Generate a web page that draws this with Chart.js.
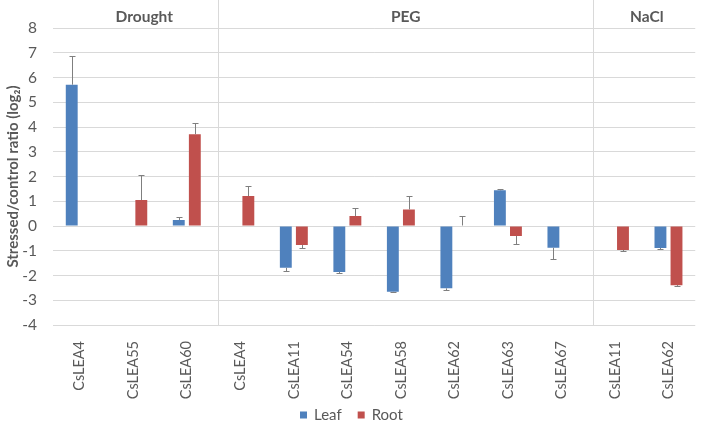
<!DOCTYPE html>
<html><head><meta charset="utf-8">
<script src="https://cdn.jsdelivr.net/npm/chart.js@4/dist/chart.umd.min.js"></script>
<style>html,body{margin:0;padding:0;background:#fff}#wrap{width:702px;height:426px;position:relative}canvas{display:block}</style>
</head><body><div id="wrap"><canvas id="c" width="702" height="426" style="width:702px;height:426px"></canvas></div>
<script>
const categories = ['CsLEA4','CsLEA55','CsLEA60','CsLEA4','CsLEA11','CsLEA54','CsLEA58','CsLEA62','CsLEA63','CsLEA67','CsLEA11','CsLEA62'];
const groupNames = ['Drought','PEG','NaCl'];
const groupSizes = [3, 7, 2];
const seriesNames = ['Leaf','Root'];
const leafValues = [5.71, null, 0.24, null, -1.69, -1.86, -2.66, -2.52, 1.44, -0.88, null, -0.89];
const leafErrors = [1.17, null, 0.11, null, 0.13, 0.03, 0.02, 0.07, 0.04, 0.46, null, 0.05];
const rootValues = [null, 1.05, 3.71, 1.21, -0.77, 0.40, 0.67, 0.02, -0.40, null, -0.97, -2.39];
const rootErrors = [null, 1.03, 0.45, 0.41, 0.11, 0.31, 0.54, 0.40, 0.34, null, 0.04, 0.02];
const yMin = -4, yMax = 8, yStep = 1;

const FONT = 'Lato, "Open Sans", sans-serif';
const TEXT = '#595959';
const GRID = '#d9d9d9';

const errorBars = {
  id: 'errorBars',
  afterDatasetsDraw(chart) {
    const ctx = chart.ctx, ys = chart.scales.y;
    chart.data.datasets.forEach((ds, i) => {
      const meta = chart.getDatasetMeta(i);
      meta.data.forEach((bar, j) => {
        const v = ds.data[j], e = ds.errors[j];
        if (v == null || e == null) return;
        const end = v >= 0 ? v + e : v - e;
        const x = Math.round(bar.x) + 0.5;
        const y0 = ys.getPixelForValue(v), y1 = Math.round(ys.getPixelForValue(end)) + 0.5;
        ctx.save();
        ctx.strokeStyle = '#7f7f7f'; ctx.lineWidth = 1;
        ctx.beginPath();
        ctx.moveTo(x, y0); ctx.lineTo(x, y1);
        ctx.moveTo(x - 3, y1); ctx.lineTo(x + 3, y1);
        ctx.stroke();
        ctx.restore();
      });
    });
  }
};

const groupsPlugin = {
  id: 'groups',
  afterDraw(chart) {
    const ctx = chart.ctx, xs = chart.scales.x, area = chart.chartArea;
    ctx.save();
    let cum = 0; const edges = [];
    groupSizes.forEach((n, k) => { cum += n; if (k < groupSizes.length - 1) edges.push(cum - 0.5 + 0.09); });
    ctx.strokeStyle = GRID; ctx.lineWidth = 1;
    edges.forEach(idx => {
      const px = Math.round(xs.getPixelForValue(idx)) + 0.5;
      ctx.beginPath(); ctx.moveTo(px, 0); ctx.lineTo(px, area.bottom); ctx.stroke();
    });
    const bounds = [-0.18].concat(edges).concat([11.6]);
    ctx.fillStyle = TEXT; ctx.font = 'bold 15.5px ' + FONT;
    ctx.textAlign = 'center'; ctx.textBaseline = 'middle';
    groupNames.forEach((g, k) => {
      const c = (xs.getPixelForValue(bounds[k]) + xs.getPixelForValue(bounds[k + 1])) / 2;
      ctx.fillText(g, c, 16.5);
    });
    ctx.font = '15px ' + FONT; ctx.textAlign = 'left';
    const items = chart.data.datasets.map(d => ({ label: d.label, color: d.backgroundColor }));
    const box = 7, gap = 7, spacing = 16;
    let total = 0;
    items.forEach((it, k) => { total += box + gap + ctx.measureText(it.label).width + (k ? spacing : 0); });
    let x = Math.round(chart.width / 2 - total / 2);
    const cy = 415.5;
    items.forEach(it => {
      ctx.fillStyle = it.color; ctx.fillRect(x, cy - 4, box, box);
      ctx.fillStyle = TEXT; ctx.fillText(it.label, x + box + gap, cy);
      x += box + gap + ctx.measureText(it.label).width + spacing;
    });
    ctx.restore();
  }
};

new Chart(document.getElementById('c'), {
  type: 'bar',
  data: {
    labels: categories,
    datasets: [
      { label: seriesNames[0], data: leafValues, errors: leafErrors, backgroundColor: '#4F81BD', categoryPercentage: 0.6, barPercentage: 0.74 },
      { label: seriesNames[1], data: rootValues, errors: rootErrors, backgroundColor: '#C0504D', categoryPercentage: 0.6, barPercentage: 0.74 }
    ]
  },
  options: {
    responsive: false,
    animation: false,
    devicePixelRatio: 1,
    layout: { padding: { top: 28, right: 3, left: 0, bottom: 0 } },
    plugins: { legend: { display: false }, tooltip: { enabled: false } },
    scales: {
      x: {
        grid: { display: false, drawTicks: false },
        border: { display: false },
        ticks: { color: TEXT, font: { family: FONT, size: 14.5 }, minRotation: 90, maxRotation: 90, autoSkip: false, padding: 16 },
        afterFit(s) { s.height = 101; }
      },
      y: {
        min: yMin, max: yMax,
        grid: { color: GRID, drawTicks: false },
        border: { display: false },
        ticks: { stepSize: yStep, color: TEXT, font: { family: FONT, size: 15.5 }, padding: 16 },
        title: { display: true, text: 'Stressed/control ratio (log\u2082)', color: TEXT, font: { family: FONT, size: 15, weight: 'bold' } },
        afterFit(s) { s.width = 53; }
      }
    }
  },
  plugins: [errorBars, groupsPlugin]
});
</script></body></html>
